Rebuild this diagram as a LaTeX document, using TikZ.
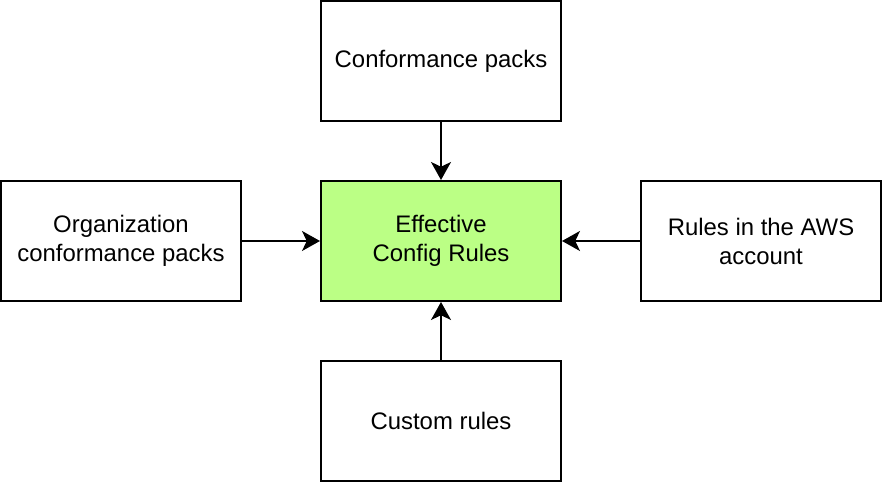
\documentclass[tikz,border=0pt]{standalone}
\usepackage{fontspec}
\setmainfont{Liberation Sans}
\usetikzlibrary{arrows.meta}
\definecolor{rulegreen}{RGB}{187,255,133}

\begin{document}
\begin{tikzpicture}[
  box/.style={draw,line width=0.05cm,minimum width=6cm,minimum height=3cm,
    align=center,font=\fontsize{17pt}{20.6pt}\selectfont},
  feed/.style={line width=0.05cm,-{Stealth[length=0.45cm,width=0.5cm,inset=0.12cm]}}]
\useasboundingbox (0,0) rectangle (22.05,12.05);
%.............................
\node[box,fill=rulegreen] (effective) at (11.025,6.025) {Effective\\Config Rules};
%.............................
\node[box] (packs) at (11.025,10.525) {Conformance packs};
\node[box] (orgpacks) at (3.025,6.025) {Organization\\conformance packs};
\node[box] (account) at (19.025,6.025) {Rules in the AWS\\account};
\node[box] (custom) at (11.025,1.525) {Custom rules};
%.............................
\draw[feed] (packs)--(effective);
\draw[feed] (orgpacks)--(effective);
\draw[feed] (account)--(effective);
\draw[feed] (custom)--(effective);
\end{tikzpicture}
\end{document}
